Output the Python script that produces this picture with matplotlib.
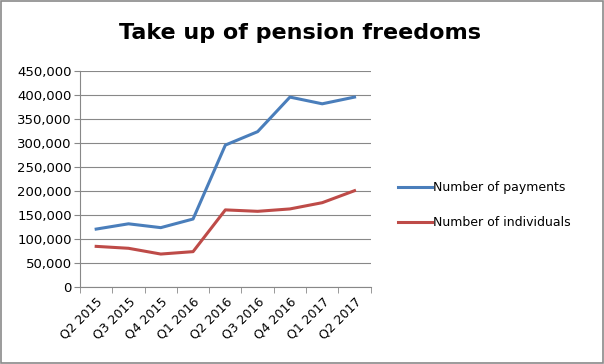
import matplotlib.pyplot as plt
import matplotlib.patches as patches
from matplotlib.ticker import FuncFormatter, FixedLocator
import numpy as np

quarters = ['Q2 2015', 'Q3 2015', 'Q4 2015', 'Q1 2016', 'Q2 2016',
            'Q3 2016', 'Q4 2016', 'Q1 2017', 'Q2 2017']
payments = [120000, 131000, 123000, 141000, 295000, 323000, 395000, 381000, 395000]
individuals = [84000, 80000, 68000, 73000, 160000, 157000, 162000, 175000, 200000]

fig = plt.figure(figsize=(6.04, 3.64), dpi=100)
ax = fig.add_axes([0.1325, 0.2124, 0.4812, 0.5934])

X = np.arange(len(quarters))
ax.plot(X, payments, color='#4A7EBB', lw=2.2, label='Number of payments')
ax.plot(X, individuals, color='#BE4B48', lw=2.2, label='Number of individuals')

ax.set_xlim(-0.5, len(quarters) - 0.5)
ax.set_ylim(0, 450000)
ax.set_yticks(np.arange(0, 450001, 50000))
ax.yaxis.set_major_formatter(FuncFormatter(lambda v, p: '{:,.0f}'.format(v)))
ax.grid(axis='y', color='#888888', lw=0.8)
ax.set_axisbelow(True)

ax.set_xticks(X)
ax.set_xticklabels(quarters, rotation=45, ha='right', rotation_mode='anchor')
ax.xaxis.set_minor_locator(FixedLocator(np.arange(-0.5, len(quarters), 1)))
ax.tick_params(axis='x', which='major', length=0, pad=6, labelsize=9)
ax.tick_params(axis='x', which='minor', length=4, color='#888888')
ax.tick_params(axis='y', length=4, color='#888888', labelsize=9.5, pad=2)

for s in ['top', 'right']:
    ax.spines[s].set_visible(False)
for s in ['left', 'bottom']:
    ax.spines[s].set_color('#888888')

fig.text(0.497, 0.908, 'Take up of pension freedoms', ha='center', va='center',
         fontsize=16, fontweight='bold')

fig.legend(loc='center left', bbox_to_anchor=(0.64, 0.436), frameon=False,
           fontsize=9, handlelength=2.7, handletextpad=0.15, labelspacing=1.75)

fig.patches.append(patches.Rectangle((0.002, 0.003), 0.996, 0.994, transform=fig.transFigure,
                                     fill=False, edgecolor='#8a8a8a', lw=1.2))

fig.savefig('out.png', dpi=100)
